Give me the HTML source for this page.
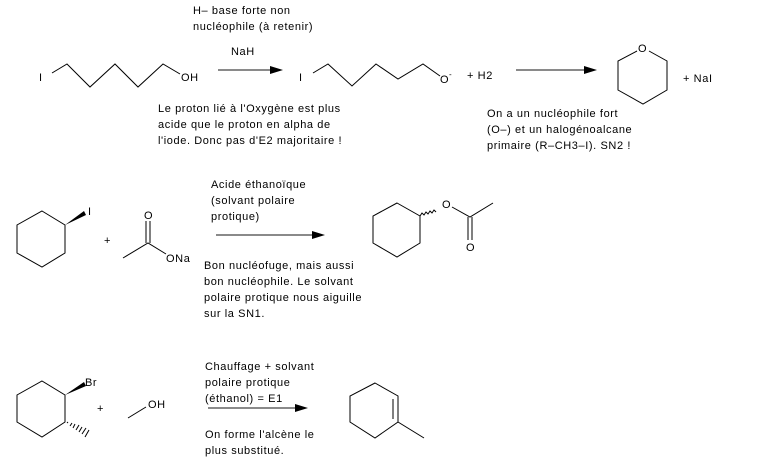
<!DOCTYPE html>
<html><head><meta charset="utf-8"><style>
html,body{margin:0;padding:0;background:#fff;width:759px;height:464px;overflow:hidden}
svg text{font-family:"Liberation Sans",sans-serif;font-size:11px;fill:#000;letter-spacing:0.6px}
</style></head><body>
<svg width="759" height="464" viewBox="0 0 759 464" xmlns="http://www.w3.org/2000/svg">
<g stroke="#000" stroke-width="1" fill="none">
<polyline points="52,73 67,64 90,87 115,64 138,87 163,64 180,74"/>
<polyline points="313,73 328,64 352,86 376,64 398,79 423,64 440,76"/>
<polyline points="649,51 667,61 667,90 643,104 618,90 618,61 637,51"/>
<polygon points="42,211 65,225 65,253 42,267 17,253 17,225"/>
<polyline points="123,258 148,243 166,254"/>
<line x1="146" y1="243" x2="146" y2="221"/><line x1="150" y1="243" x2="150" y2="221"/>
<polygon points="397,203 420,216 420,243 397,257 373,243 373,216"/>
<path d="M420,216 l2,-3 l2,2 l2,-3 l2,2 l2,-3 l2,2 l2,-3 l2,2"/>
<polyline points="452,207 470,217 493,203"/>
<line x1="468" y1="217" x2="468" y2="240"/><line x1="472" y1="217" x2="472" y2="240"/>
<polygon points="42,381 65,395 65,422 42,437 17,422 17,395"/>
<line x1="128" y1="418" x2="146" y2="407"/>
<polygon points="375,383 398,396 398,422 375,438 350,422 350,396"/>
<line x1="393" y1="399" x2="393" y2="419"/>
<line x1="398" y1="422" x2="424" y2="438"/>
</g>
<polygon points="65,225 84,211 86,215" fill="#000"/>
<polygon points="65,395 84,382 86,386" fill="#000"/>
<g stroke="#000" stroke-width="1">
<line x1="67" y1="423" x2="68" y2="422"/><line x1="70" y1="426" x2="72" y2="423"/>
<line x1="73" y1="428" x2="75" y2="424"/><line x1="76" y1="430" x2="79" y2="425"/>
<line x1="79" y1="432" x2="82" y2="427"/><line x1="82" y1="434" x2="86" y2="428"/>
<line x1="85" y1="437" x2="89" y2="430"/>
</g>
<g stroke="#444" stroke-width="1.3">
<line x1="218" y1="70" x2="272" y2="70"/>
<line x1="516" y1="70" x2="585" y2="70"/>
<line x1="216" y1="235" x2="314" y2="235"/>
<line x1="208" y1="408" x2="296" y2="408"/>
</g>
<polygon points="270,66 283,70 270,74" fill="#000"/>
<polygon points="584,66 597,70 584,74" fill="#000"/>
<polygon points="312,231 325,235 312,239" fill="#000"/>
<polygon points="295,404 308,408 295,412" fill="#000"/>
<text x="39" y="81">I</text>
<text x="181" y="81">OH</text>
<text x="299" y="81">I</text>
<text x="440" y="83">O</text><text x="449" y="77" style="font-size:8px">-</text>
<text x="467" y="79">+ H2</text>
<text x="638" y="52">O</text>
<text x="683" y="82">+ NaI</text>
<text x="193" y="14">H– base forte non</text>
<text x="193" y="30">nucléophile (à retenir)</text>
<text x="231" y="55">NaH</text>
<text x="158" y="112">Le proton lié à l'Oxygène est plus</text>
<text x="158" y="128">acide que le proton en alpha de</text>
<text x="158" y="144">l'iode. Donc pas d'E2 majoritaire !</text>
<text x="487" y="117">On a un nucléophile fort</text>
<text x="487" y="133">(O–) et un halogénoalcane</text>
<text x="487" y="149">primaire (R–CH3–I). SN2 !</text>
<text x="88" y="215">I</text>
<text x="104" y="244">+</text>
<text x="144" y="219">O</text>
<text x="166" y="262">ONa</text>
<text x="211" y="188">Acide éthanoïque</text>
<text x="211" y="204">(solvant polaire</text>
<text x="211" y="220">protique)</text>
<text x="204" y="269">Bon nucléofuge, mais aussi</text>
<text x="204" y="285">bon nucléophile. Le solvant</text>
<text x="204" y="301">polaire protique nous aiguille</text>
<text x="204" y="317">sur la SN1.</text>
<text x="442" y="208">O</text>
<text x="466" y="251">O</text>
<text x="85" y="386">Br</text>
<text x="97" y="412">+</text>
<text x="148" y="408">OH</text>
<text x="205" y="370">Chauffage + solvant</text>
<text x="205" y="386">polaire protique</text>
<text x="205" y="402">(éthanol) = E1</text>
<text x="205" y="438">On forme l'alcène le</text>
<text x="205" y="454">plus substitué.</text>
</svg>
</body></html>
